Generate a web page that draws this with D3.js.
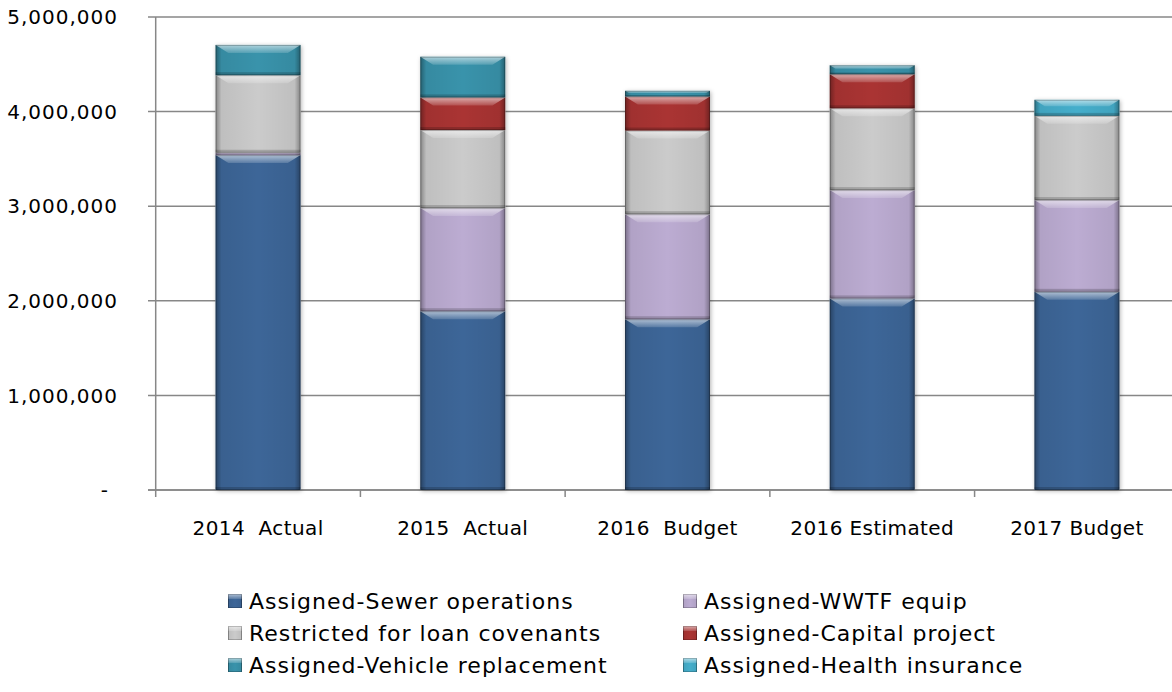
<!DOCTYPE html>
<html>
<head>
<meta charset="utf-8">
<title>Sewer fund balance</title>
<script src="https://cdn.jsdelivr.net/npm/d3@7/dist/d3.min.js"></script>
<style>
  body { margin: 0; background: #fff; }
  svg text { font-family: "DejaVu Sans", sans-serif; fill: #000; }
</style>
</head>
<body>
<svg id="svg"></svg>
<script>
var width = 1172, height = 692;

// categories and series
var categories = ["2014  Actual", "2015  Actual", "2016  Budget", "2016 Estimated", "2017 Budget"];
var seriesNames = ["Assigned-Sewer operations", "Assigned-WWTF equip", "Restricted for loan covenants",
                   "Assigned-Capital project", "Assigned-Vehicle replacement", "Assigned-Health insurance"];
var sewerOps    = [3540000, 1890000, 1805000, 2025000, 2095000];
var wwtfEquip   = [  25000, 1090000, 1110000, 1145000,  970000];
var loanCov     = [ 820000,  825000,  885000,  865000,  890000];
var capitalProj = [      0,  345000,  360000,  360000,       0];
var vehicleRepl = [ 320000,  430000,   60000,   95000,       0];
var healthIns   = [      0,       0,       0,       0,  170000];
var yTicks = [0, 1000000, 2000000, 3000000, 4000000, 5000000];
var colors = ["#3d6698", "#bcacd2", "#cbcbcb", "#aa3433", "#3993ab", "#45aecb"];

var seriesValues = [sewerOps, wwtfEquip, loanCov, capitalProj, vehicleRepl, healthIns];
var rows = categories.map(function (c, i) {
  var r = { cat: c };
  seriesNames.forEach(function (s, k) { r[s] = seriesValues[k][i]; });
  return r;
});
var stacked = d3.stack().keys(seriesNames)(rows);

var svg = d3.select('#svg').attr('width', width).attr('height', height);
var defs = svg.append('defs');

var x = d3.scaleBand().domain(categories).range([155.7, 1179.3])
  .paddingInner(0.585).paddingOuter(0.2925);
var y = d3.scaleLinear().domain([0, 5000000]).range([490, 17]);

// bevel helpers
var side = defs.append('linearGradient').attr('id', 'side').attr('x1', 0).attr('x2', 1).attr('y1', 0).attr('y2', 0);
[[0, 0.35], [0.07, 0.06], [0.5, 0], [0.93, 0.06], [1, 0.35]].forEach(function (s) {
  side.append('stop').attr('offset', s[0]).attr('stop-color', '#000').attr('stop-opacity', s[1]);
});
var topHi = defs.append('linearGradient').attr('id', 'tophi').attr('x1', 0).attr('x2', 0).attr('y1', 0).attr('y2', 1);
topHi.append('stop').attr('offset', 0).attr('stop-color', '#fff').attr('stop-opacity', 0.6);
topHi.append('stop').attr('offset', 1).attr('stop-color', '#fff').attr('stop-opacity', 0.15);
var shadow = defs.append('filter').attr('id', 'shadow').attr('x', '-20%').attr('y', '-20%').attr('width', '140%').attr('height', '140%');
shadow.append('feDropShadow').attr('dx', 1).attr('dy', 1).attr('stdDeviation', 2)
  .attr('flood-color', '#000').attr('flood-opacity', 0.3);

// gridlines
svg.append('g').selectAll('line').data(yTicks).join('line')
  .attr('x1', 148).attr('x2', width).attr('y1', function (d) { return y(d); }).attr('y2', function (d) { return y(d); })
  .attr('stroke', '#878787').attr('stroke-width', 1.5);

// y axis labels
var fmt = d3.format(',');
svg.append('g').selectAll('text').data(yTicks).join('text')
  .attr('x', function (d) { return d === 0 ? 109 : 118; })
  .attr('y', function (d) { return y(d); })
  .attr('dy', '0.36em').attr('text-anchor', 'end')
  .style('font-size', '20px').style('letter-spacing', '1px')
  .text(function (d) { return d === 0 ? '-' : fmt(d); });

// axis lines
svg.append('line').attr('x1', 155.7).attr('x2', 155.7).attr('y1', y(5000000)).attr('y2', y(0))
  .attr('stroke', '#878787').attr('stroke-width', 1.5);
svg.append('line').attr('x1', 148).attr('x2', width).attr('y1', y(0)).attr('y2', y(0))
  .attr('stroke', '#878787').attr('stroke-width', 1.5);
var bounds = d3.range(categories.length + 1).map(function (i) { return 155.7 + i * x.step(); });
svg.append('g').selectAll('line').data(bounds).join('line')
  .attr('x1', function (d) { return d; }).attr('x2', function (d) { return d; })
  .attr('y1', y(0)).attr('y2', y(0) + 7)
  .attr('stroke', '#878787').attr('stroke-width', 1.5);

// x labels
svg.append('g').selectAll('text').data(categories).join('text')
  .attr('x', function (d) { return x(d) + x.bandwidth() / 2; })
  .attr('y', 535).attr('text-anchor', 'middle')
  .attr('xml:space', 'preserve').style('white-space', 'pre')
  .style('font-size', '20px').style('letter-spacing', '0.4px')
  .text(function (d) { return d; });

// bars
var segs = [];
stacked.forEach(function (layer, k) {
  layer.forEach(function (d) {
    if (d[1] - d[0] > 0) segs.push({ k: k, cat: d.data.cat, y0: d[0], y1: d[1] });
  });
});
var barG = svg.append('g');
barG.selectAll('rect.shadow').data(categories).join('rect').attr('class', 'shadow')
  .attr('x', function (d) { return x(d); }).attr('width', x.bandwidth())
  .attr('y', function (d, i) { return y(d3.sum(seriesValues, function (s) { return s[i]; })); })
  .attr('height', function (d, i) { return y(0) - y(d3.sum(seriesValues, function (s) { return s[i]; })); })
  .attr('fill', '#fff').attr('filter', 'url(#shadow)');

var seg = barG.selectAll('g.seg').data(segs).join('g').attr('class', 'seg');
seg.append('rect')
  .attr('x', function (d) { return x(d.cat); }).attr('width', x.bandwidth())
  .attr('y', function (d) { return y(d.y1); }).attr('height', function (d) { return y(d.y0) - y(d.y1); })
  .attr('fill', function (d) { return colors[d.k]; });
seg.append('rect')
  .attr('x', function (d) { return x(d.cat); }).attr('width', x.bandwidth())
  .attr('y', function (d) { return y(d.y1); }).attr('height', function (d) { return y(d.y0) - y(d.y1); })
  .attr('fill', 'url(#side)');
seg.append('path')
  .attr('d', function (d) {
    var x0 = x(d.cat), w = x.bandwidth(), t = y(d.y1);
    var h = Math.min(8, (y(d.y0) - y(d.y1)) * 0.4);
    return 'M' + x0 + ',' + t + 'H' + (x0 + w) + 'L' + (x0 + w - h * 1.6) + ',' + (t + h) +
      'H' + (x0 + h * 1.6) + 'Z';
  })
  .attr('fill', 'url(#tophi)');
seg.append('rect')
  .attr('x', function (d) { return x(d.cat); }).attr('width', x.bandwidth())
  .attr('y', function (d) { return y(d.y0) - Math.min(3, (y(d.y0) - y(d.y1)) * 0.2); })
  .attr('height', function (d) { return Math.min(3, (y(d.y0) - y(d.y1)) * 0.2); })
  .attr('fill', '#000').attr('opacity', 0.18);
seg.append('rect')
  .attr('x', function (d) { return x(d.cat) + 0.5; }).attr('width', x.bandwidth() - 1)
  .attr('y', function (d) { return y(d.y1) + 0.5; }).attr('height', function (d) { return Math.max(0, y(d.y0) - y(d.y1) - 1); })
  .attr('fill', 'none').attr('stroke', '#000').attr('stroke-opacity', 0.25).attr('stroke-width', 1);

// legend
var legX = [228, 683], legY = [601, 633, 665];
var leg = svg.append('g').selectAll('g').data(seriesNames).join('g')
  .attr('transform', function (d, i) { return 'translate(' + legX[i % 2] + ',' + legY[Math.floor(i / 2)] + ')'; });
leg.append('rect').attr('x', 0).attr('y', -7).attr('width', 14).attr('height', 14)
  .attr('fill', function (d, i) { return colors[i]; });
leg.append('rect').attr('x', 0).attr('y', -7).attr('width', 14).attr('height', 14).attr('fill', 'url(#side)');
leg.append('rect').attr('x', 0).attr('y', -7).attr('width', 14).attr('height', 5).attr('fill', 'url(#tophi)');
leg.append('rect').attr('x', 0.5).attr('y', -6.5).attr('width', 13).attr('height', 13)
  .attr('fill', 'none').attr('stroke', '#000').attr('stroke-opacity', 0.2);
leg.append('text').attr('x', 21).attr('y', 0).attr('dy', '0.36em')
  .style('font-size', '22px').style('letter-spacing', '1px')
  .text(function (d) { return d; });
</script>
</body>
</html>
